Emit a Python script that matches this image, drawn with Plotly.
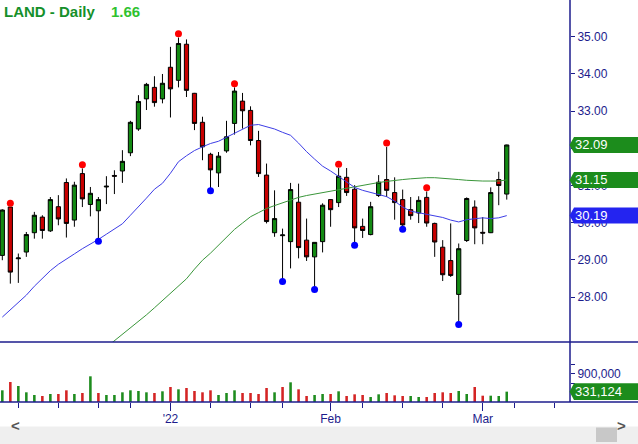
import plotly.graph_objects as go

## LAND daily bars, Dec 2 2021 .. Mar 4 2022 (one entry per trading day) ##

opens = [29.12, 30.42, 29.03, 29.21, 29.73, 30.15, 29.78, 30.43, 31.08, 30.07,
         31.32, 30.49, 30.32, 30.96, 31.27, 31.39, 31.88, 32.52, 33.33, 33.64,
         33.33, 34.18, 33.83, 34.80, 33.48, 32.70, 31.84, 31.34, 31.93, 32.67,
         33.27, 33.02, 32.21, 31.28, 29.73, 29.65, 29.49, 30.55, 29.53, 29.08,
         29.49, 30.62, 30.54, 31.22, 30.90, 29.90, 29.68, 30.73, 31.16, 30.81,
         30.62, 30.35, 30.26, 30.68, 29.98, 29.34, 28.98, 28.07, 29.52, 30.42,
         29.74, 29.73, 31.16, 30.77]
highs = [30.36, 30.42, 29.17, 29.75, 30.29, 30.20, 30.69, 30.74, 31.19, 31.10,
         31.46, 30.96, 30.69, 31.25, 31.41, 31.95, 32.74, 33.43, 33.76, 33.94,
         34.00, 34.73, 34.98, 34.93, 33.49, 32.85, 31.88, 31.90, 32.74, 33.64,
         33.49, 33.13, 32.47, 31.59, 30.87, 29.84, 31.07, 31.05, 30.11, 29.47,
         30.52, 30.63, 31.47, 31.47, 31.01, 30.11, 30.56, 31.28, 32.04, 31.22,
         30.89, 30.69, 30.71, 30.84, 30.00, 29.53, 29.98, 29.44, 30.68, 30.60,
         30.15, 30.95, 31.37, 32.10]
lows = [28.99, 28.36, 28.38, 29.08, 29.57, 29.57, 29.75, 29.93, 29.60, 29.89,
        30.42, 30.17, 29.53, 30.50, 30.77, 31.07, 31.79, 32.47, 33.03, 33.12,
        33.21, 32.83, 33.64, 33.38, 32.49, 31.68, 30.89, 30.96, 31.88, 32.37,
        32.53, 32.08, 31.23, 29.98, 29.62, 28.45, 28.77, 29.04, 28.97, 28.23,
        29.20, 29.89, 30.42, 30.72, 29.42, 29.59, 29.66, 30.69, 30.69, 30.08,
        29.85, 30.08, 29.99, 29.89, 29.08, 28.43, 28.54, 27.29, 29.48, 29.42,
        29.42, 29.72, 30.47, 30.62]
closes = [30.34, 28.67, 29.05, 29.68, 30.20, 29.79, 30.62, 30.10, 29.98, 31.01,
          30.64, 30.79, 30.62, 30.98, 31.25, 31.65, 32.70, 33.26, 33.72, 33.23,
          33.75, 33.60, 34.82, 33.56, 32.67, 32.04, 31.42, 31.79, 32.31, 33.54,
          33.01, 32.21, 31.32, 30.03, 30.11, 29.67, 30.89, 29.33, 29.08, 29.47,
          30.47, 30.35, 31.25, 30.81, 29.86, 29.79, 30.43, 31.09, 30.87, 30.54,
          29.94, 30.19, 30.60, 29.99, 29.48, 28.60, 28.58, 29.30, 30.65, 29.86,
          29.72, 30.81, 31.00, 32.09]
volumes = [374000, 640000, 512000, 310000, 224000, 192000, 256000, 256000, 374000, 256000,
           288000, 822000, 288000, 224000, 224000, 310000, 374000, 352000, 310000, 288000,
           342000, 480000, 406000, 448000, 352000, 310000, 374000, 224000, 288000, 374000,
           288000, 288000, 256000, 448000, 310000, 480000, 630000, 406000, 192000, 224000,
           256000, 256000, 342000, 192000, 246000, 224000, 160000, 246000, 288000, 214000,
           192000, 192000, 160000, 160000, 288000, 310000, 288000, 352000, 256000, 480000,
           202000, 202000, 192000, 331124]

# moving averages as drawn (blue = short, green = long)
ma_short = [27.46, 27.66, 27.85, 28.05, 28.29, 28.50, 28.71, 28.88, 29.03, 29.16,
            29.30, 29.42, 29.55, 29.69, 29.84, 29.97, 30.20, 30.42, 30.66, 30.90,
            31.06, 31.33, 31.64, 31.80, 31.94, 32.04, 32.13, 32.19, 32.30, 32.41,
            32.52, 32.62, 32.64, 32.58, 32.52, 32.43, 32.35, 32.14, 31.91, 31.71,
            31.52, 31.39, 31.25, 31.10, 30.95, 30.87, 30.81, 30.75, 30.70, 30.58,
            30.42, 30.31, 30.27, 30.23, 30.19, 30.14, 30.07, 30.02, 30.08, 30.11,
            30.13, 30.11, 30.13, 30.19]
ma_long = [None] * 13 + [
    26.65, 26.82, 27.00, 27.17, 27.34, 27.52, 27.71, 27.90, 28.09, 28.29,
    28.49, 28.75, 28.99, 29.18, 29.39, 29.59, 29.82, 29.99, 30.16, 30.27,
    30.38, 30.46, 30.54, 30.61, 30.68, 30.73, 30.77, 30.81, 30.86, 30.90,
    30.94, 30.98, 31.01, 31.04, 31.08, 31.11, 31.14, 31.16, 31.18, 31.20,
    31.21, 31.21, 31.20, 31.18, 31.16, 31.14, 31.12, 31.12, 31.12, 31.12, 31.15]

# pivot markers (bar index)
pivot_highs = [1, 10, 22, 29, 42, 48, 53]
pivot_lows = [12, 26, 35, 39, 44, 50, 57]

# axis ticks (bar index)
month_ticks = [21, 41, 60]
month_labels = ["'22", "Feb", "Mar"]
week_ticks = [2, 7, 12, 16, 26, 31, 35, 45, 50, 55, 64, 69]
price_ticks = [28, 29, 30, 31, 32, 33, 34, 35]
price_labels = ["28.00", "29.00", "30.00", "31.00", "", "33.00", "34.00", "35.00"]  # 32.00 sits under the close tag
vol_ticks = [600000, 900000, 1200000]
vol_labels = ["", "900,000", ""]

title_text = "LAND - Daily"
change_text = "1.66"

## styling ##
W, H = 638, 444
PLOT_W, PLOT_H = 570, 402          # plot area in pixels (margins r=68, b=42)
NAVY = "#1c1c8c"
GREEN = "#138a13"
RED = "#c80000"
FONT = "Arial, Liberation Sans, sans-serif"

def fx(px):   # pixel x -> paper
    return px / PLOT_W

def fy(py):   # pixel y -> paper
    return (PLOT_H - py) / PLOT_H

idx = list(range(len(closes)))
vol_colors = ["#1e8c1e"] + ["#1e8c1e" if closes[i] >= closes[i - 1] else "#d42424"
                            for i in range(1, len(closes))]

fig = go.Figure()

fig.add_trace(go.Candlestick(
    x=idx, open=opens, high=highs, low=lows, close=closes,
    increasing=dict(line=dict(color="black", width=1), fillcolor=GREEN),
    decreasing=dict(line=dict(color="black", width=1), fillcolor=RED),
    whiskerwidth=0, showlegend=False, hoverinfo="skip", yaxis="y"))

fig.add_trace(go.Scatter(x=idx, y=ma_long, mode="lines", line=dict(color="#3a963a", width=1),
                         showlegend=False, hoverinfo="skip", yaxis="y"))
fig.add_trace(go.Scatter(x=idx, y=ma_short, mode="lines", line=dict(color="#3d3de6", width=1),
                         showlegend=False, hoverinfo="skip", yaxis="y"))

fig.add_trace(go.Scatter(x=pivot_highs, y=[highs[i] + 0.1 for i in pivot_highs], mode="markers",
                         marker=dict(color="#ff0000", size=7), showlegend=False, yaxis="y"))
fig.add_trace(go.Scatter(x=pivot_lows, y=[lows[i] - 0.03 for i in pivot_lows], mode="markers",
                         marker=dict(color="#0000ff", size=7), showlegend=False, yaxis="y"))

fig.add_trace(go.Bar(x=idx, y=volumes, marker=dict(color=vol_colors, line=dict(width=0)),
                     width=0.32, showlegend=False, hoverinfo="skip", yaxis="y2"))

vol_top = 1920000
split = 60 / PLOT_H

fig.update_layout(
    width=W, height=H,
    margin=dict(l=0, r=W - PLOT_W, t=0, b=H - PLOT_H),
    paper_bgcolor="white", plot_bgcolor="white",
    font=dict(family=FONT, size=12, color=NAVY),
    boxgap=0.25,
    xaxis=dict(range=[-0.29, 70.9], anchor="y2", showgrid=False, zeroline=False,
               rangeslider=dict(visible=False),
               tickvals=month_ticks, ticktext=month_labels, ticks="outside", ticklen=8,
               ticklabelstandoff=-2,
               tickcolor=NAVY, tickfont=dict(size=12, color=NAVY),
               minor=dict(tickvals=week_ticks, ticks="outside", ticklen=5, tickcolor=NAVY)),
    yaxis=dict(domain=[split, 1], range=[26.79, 35.99], side="right", anchor="x",
               showgrid=False, zeroline=False,
               tickvals=price_ticks, ticktext=price_labels,
               ticks="outside", ticklen=4, tickcolor=NAVY, tickfont=dict(size=12, color=NAVY)),
    yaxis2=dict(domain=[0, split], range=[0, vol_top], side="right", anchor="x",
                showgrid=False, zeroline=False,
                tickvals=vol_ticks, ticktext=vol_labels,
                ticks="outside", ticklen=4, tickcolor=NAVY, tickfont=dict(size=12, color=NAVY)),
)

# frame lines
line = dict(color=NAVY, width=1.5)
fig.add_shape(type="line", xref="paper", yref="paper", x0=1, x1=1, y0=0, y1=1, line=line)
fig.add_shape(type="line", xref="paper", yref="paper", x0=0, x1=fx(W), y0=split, y1=split, line=line)
fig.add_shape(type="line", xref="paper", yref="paper", x0=0, x1=fx(W), y0=0, y1=0, line=line)

# last value tags
def tag(value, text, color, yref, half):
    x_tip, x_box, x_end = fx(PLOT_W - 0.5), fx(PLOT_W + 4), fx(W + 2)
    path = (f"M {x_tip},{value} L {x_box},{value + half} L {x_end},{value + half} "
            f"L {x_end},{value - half} L {x_box},{value - half} Z")
    fig.add_shape(type="path", path=path, xref="paper", yref=yref,
                  fillcolor=color, line=dict(width=0), layer="above")
    fig.add_annotation(x=fx(PLOT_W + 3), y=value, xref="paper", yref=yref, text=text,
                       xanchor="left", yanchor="middle", showarrow=False,
                       font=dict(family=FONT, size=13, color="white"))

price_half = 8 / (342 / (35.99 - 26.79))
tag(closes[-1], f"{closes[-1]:.2f}", "#1c8c1c", "y", price_half)
tag(ma_long[-1], f"{ma_long[-1]:.2f}", "#1c8c1c", "y", price_half)
tag(ma_short[-1], f"{ma_short[-1]:.2f}", "#2424f0", "y", price_half)
tag(volumes[-1], f"{volumes[-1]:,}", "#1c8c1c", "y2", 8.3 * vol_top / 60)

# title
fig.add_annotation(x=fx(2), y=fy(11), xref="paper", yref="paper", text=f"<b>{title_text}</b>",
                   xanchor="left", yanchor="middle", showarrow=False,
                   font=dict(family=FONT, size=15, color="#15902a"))
fig.add_annotation(x=fx(109), y=fy(11), xref="paper", yref="paper", text=f"<b>{change_text}</b>",
                   xanchor="left", yanchor="middle", showarrow=False,
                   font=dict(family=FONT, size=15, color="#2fc22f"))

# scrollbar strip at the bottom
fig.add_shape(type="rect", xref="paper", yref="paper", x0=fx(0), x1=fx(W), y0=fy(426.5), y1=fy(H),
              fillcolor="#efefef", line=dict(width=0))
fig.add_shape(type="rect", xref="paper", yref="paper", x0=fx(596), x1=fx(617), y0=fy(427.5), y1=fy(442),
              fillcolor="#c8c8c8", line=dict(width=0))
fig.add_annotation(x=fx(9), y=fy(436), xref="paper", yref="paper", text="<b>&lt;</b>", showarrow=False,
                   font=dict(family=FONT, size=15, color="#555555"))
fig.add_annotation(x=fx(628), y=fy(436), xref="paper", yref="paper", text="<b>&gt;</b>", showarrow=False,
                   font=dict(family=FONT, size=15, color="#555555"))

# the page's default body margin would push the figure 8px off the window
fig.write_html("out.html", config={"displayModeBar": False},
               post_script="document.body.style.margin='0';")
